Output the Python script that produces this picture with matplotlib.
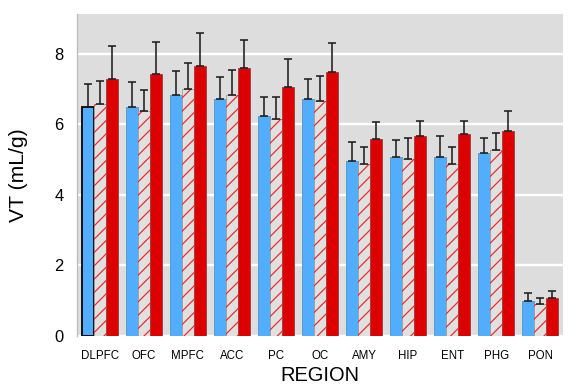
import numpy as np
import matplotlib
matplotlib.use("Agg")
from matplotlib import pyplot as plt

# Data
regions = ["DLPFC", "OFC", "MPFC", "ACC", "PC", "OC", "AMY", "HIP", "ENT", "PHG", "PON"]
blue_vals = [6.48, 6.48, 6.82, 6.70, 6.23, 6.72, 4.96, 5.08, 5.06, 5.18, 0.99]
blue_err = [0.66, 0.71, 0.69, 0.64, 0.53, 0.55, 0.54, 0.48, 0.61, 0.44, 0.22]
hatch_vals = [6.57, 6.37, 6.99, 6.84, 6.15, 6.65, 4.88, 5.02, 4.88, 5.27, 0.90]
hatch_err = [0.66, 0.61, 0.73, 0.69, 0.63, 0.70, 0.48, 0.59, 0.48, 0.48, 0.18]
red_vals = [7.28, 7.42, 7.65, 7.59, 7.05, 7.47, 5.58, 5.67, 5.72, 5.82, 1.08]
red_err = [0.94, 0.92, 0.94, 0.79, 0.80, 0.83, 0.48, 0.43, 0.38, 0.55, 0.20]
yticks = [0, 2, 4, 6, 8]

# Constants
DPI = 80
W = 0.273
BLUE = "#52adfd"
RED = "#dc0000"
HATCH_FACE = "#e0e0e0"
BG = "#dcdddc"

plt.rcParams['font.family'] = ['Liberation Sans', 'DejaVu Sans']
plt.rcParams['hatch.linewidth'] = 1.1

fig = plt.figure(figsize=(568 / DPI, 389 / DPI), dpi=DPI)
ax = fig.add_axes([77 / 568, (389 - 336) / 389, (563 - 77) / 568, (336 - 14) / 389])
ax.set_facecolor(BG)

x = np.arange(len(regions))

# Grid behind bars
ax.set_axisbelow(True)
ax.yaxis.grid(True, color="white", lw=2.2)

err_kw = dict(ecolor="#1a1a1a", elinewidth=1.4, capsize=4, capthick=1.4)

blue_bars = ax.bar(x - W, blue_vals, W, color=BLUE, edgecolor="#5d95c8", lw=0.8,
                   yerr=[np.zeros(len(x)), blue_err], error_kw=err_kw)
# first bar is outlined black in the reference
blue_bars[0].set_edgecolor("black")
blue_bars[0].set_linewidth(1.6)

ax.bar(x, hatch_vals, W, color=HATCH_FACE, edgecolor="#a0a0a0", lw=0.8,
       yerr=[np.zeros(len(x)), hatch_err], error_kw=err_kw)
ax.bar(x, hatch_vals, W, color="none", edgecolor="#ee2a2a", lw=0, hatch="//")

ax.bar(x + W, red_vals, W, color=RED, edgecolor="#a04040", lw=0.8,
       yerr=[np.zeros(len(x)), red_err], error_kw=err_kw)

ax.set_xlim(-0.52, 10.52)
ax.set_ylim(0, 9.12)
ax.set_yticks(yticks)
ax.set_yticklabels([str(t) for t in yticks], fontsize=14.8)
ax.set_xticks(x)
ax.set_xticklabels(regions, fontsize=10.4)
ax.tick_params(axis="both", length=0)
ax.tick_params(axis="y", pad=12)
ax.tick_params(axis="x", pad=13)

for s in ["top", "right", "bottom"]:
    ax.spines[s].set_visible(False)
ax.spines["left"].set_color("#bdbdbd")
ax.spines["left"].set_linewidth(1.2)

ax.set_xlabel("REGION", fontsize=18, labelpad=3)
ax.set_ylabel("VT (mL/g)", fontsize=19, labelpad=24)

fig.savefig("out.png", dpi=DPI, facecolor="white")
